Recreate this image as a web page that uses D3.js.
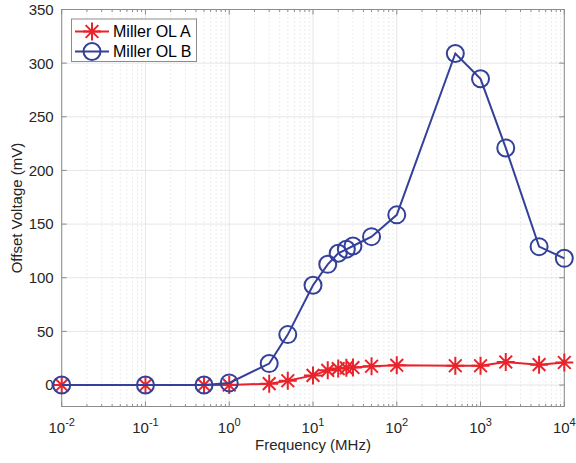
<!DOCTYPE html>
<html>
<head>
<meta charset="utf-8">
<script src="https://cdn.jsdelivr.net/npm/d3@7"></script>
<style>
  html, body { margin: 0; padding: 0; background: #fff; }
  svg { display: block; font-family: "Liberation Sans", Arial, Helvetica, sans-serif; }
</style>
</head>
<body>
<svg id="chart" width="576" height="463"></svg>
<script>
// Measured frequencies (MHz)
const freqs = [0.01, 0.1, 0.5, 1, 3, 5, 10, 15, 20, 25, 30, 50, 100, 500, 1000, 2000, 5000, 10000];
// Offset voltage (mV) for each amplifier variant
const millerA = [0, 0, 0, 0, 1.3, 4, 9, 13.7, 15.3, 16, 16.3, 17.5, 18.4, 18, 18, 21.5, 19, 21];
const millerB = [0, 0, 0, 2, 20, 47, 93, 112.5, 122.8, 126.5, 129.6, 138.3, 158.6, 309, 285.4, 221, 129, 118.1];
const seriesNames = ["Miller OL A", "Miller OL B"];
const xTickExps = [-2, -1, 0, 1, 2, 3, 4];
const yTicks = [0, 50, 100, 150, 200, 250, 300, 350];

const colA = "#e8232b";
const colB = "#34409a";

const svg = d3.select("#chart");
const L = 61.7, R = 564.3, T = 9.5, B = 406.5;

const x = d3.scaleLog().domain([0.01, 10000]).range([L, R]);
const y = d3.scaleLinear().domain([-20, 350]).range([B, T]);

// minor decade positions
const minors = [];
for (let e = -2; e < 4; e++) for (let k = 2; k <= 9; k++) minors.push(k * Math.pow(10, e));
const majors = xTickExps.map(e => Math.pow(10, e));

const grid = svg.append("g");
grid.selectAll(".vminor").data(minors).join("line")
  .attr("x1", d => x(d)).attr("x2", d => x(d)).attr("y1", T).attr("y2", B)
  .attr("stroke", "#cfcfcf").attr("stroke-width", 0.8).attr("stroke-dasharray", "1,3");
grid.selectAll(".vmajor").data(majors).join("line")
  .attr("x1", d => x(d)).attr("x2", d => x(d)).attr("y1", T).attr("y2", B)
  .attr("stroke", "#e6e6e6").attr("stroke-width", 1);
grid.selectAll(".hmajor").data(yTicks).join("line")
  .attr("x1", L).attr("x2", R).attr("y1", d => y(d)).attr("y2", d => y(d))
  .attr("stroke", "#e6e6e6").attr("stroke-width", 1);

// ticks (inward, on all four sides)
const axisCol = "#8c8c8c";
const ticks = svg.append("g").attr("stroke", axisCol).attr("stroke-width", 1);
majors.forEach(d => {
  ticks.append("line").attr("x1", x(d)).attr("x2", x(d)).attr("y1", B).attr("y2", B - 5);
  ticks.append("line").attr("x1", x(d)).attr("x2", x(d)).attr("y1", T).attr("y2", T + 5);
});
minors.forEach(d => {
  ticks.append("line").attr("x1", x(d)).attr("x2", x(d)).attr("y1", B).attr("y2", B - 2.5);
  ticks.append("line").attr("x1", x(d)).attr("x2", x(d)).attr("y1", T).attr("y2", T + 2.5);
});
yTicks.forEach(d => {
  ticks.append("line").attr("x1", L).attr("x2", L + 5).attr("y1", y(d)).attr("y2", y(d));
  ticks.append("line").attr("x1", R).attr("x2", R - 5).attr("y1", y(d)).attr("y2", y(d));
});
svg.append("rect").attr("x", L).attr("y", T).attr("width", R - L).attr("height", B - T)
  .attr("fill", "none").attr("stroke", axisCol).attr("stroke-width", 1);

// tick labels
const txtCol = "#262626";
const yl = svg.append("g").attr("font-size", 15).attr("fill", txtCol).attr("text-anchor", "end");
yTicks.forEach(d => {
  yl.append("text").attr("x", L - 8).attr("y", y(d)).attr("dy", "0.36em").text(d);
});
const xl = svg.append("g").attr("font-size", 15).attr("fill", txtCol).attr("text-anchor", "middle");
xTickExps.forEach(e => {
  const t = xl.append("text").attr("x", x(Math.pow(10, e))).attr("y", 433);
  t.append("tspan").text("10");
  t.append("tspan").attr("dy", -7).attr("font-size", 11).text(e);
});

// axis titles
svg.append("text").attr("x", (L + R) / 2).attr("y", 450).attr("text-anchor", "middle")
  .attr("font-size", 15).attr("fill", txtCol).text("Frequency (MHz)");
svg.append("text").attr("transform", `translate(22,${(T + B) / 2}) rotate(-90)`)
  .attr("text-anchor", "middle").attr("font-size", 15).attr("fill", txtCol).text("Offset Voltage (mV)");

// marker drawers
function star(g, cx, cy, r, col) {
  const d = r * Math.SQRT1_2;
  const p = `M${cx - r},${cy}L${cx + r},${cy}M${cx},${cy - r}L${cx},${cy + r}` +
            `M${cx - d},${cy - d}L${cx + d},${cy + d}M${cx - d},${cy + d}L${cx + d},${cy - d}`;
  g.append("path").attr("d", p).attr("stroke", col).attr("stroke-width", 2).attr("fill", "none");
}
function circ(g, cx, cy, r, col) {
  g.append("circle").attr("cx", cx).attr("cy", cy).attr("r", r)
    .attr("stroke", col).attr("stroke-width", 2).attr("fill", "none");
}

const line = d3.line().x(d => x(d[0])).y(d => y(d[1]));
const dataA = freqs.map((f, i) => [f, millerA[i]]);
const dataB = freqs.map((f, i) => [f, millerB[i]]);

const plot = svg.append("g");
plot.append("path").datum(dataA).attr("d", line).attr("fill", "none").attr("stroke", colA).attr("stroke-width", 2);
dataA.forEach(d => star(plot, x(d[0]), y(d[1]), 9, colA));
plot.append("path").datum(dataB).attr("d", line).attr("fill", "none").attr("stroke", colB).attr("stroke-width", 2);
dataB.forEach(d => circ(plot, x(d[0]), y(d[1]), 8.5, colB));

// legend
const lg = svg.append("g");
lg.append("rect").attr("x", 71.5).attr("y", 19).attr("width", 125).attr("height", 42.5)
  .attr("fill", "#fff").attr("stroke", axisCol).attr("stroke-width", 1);
const entries = [{ name: seriesNames[0], col: colA, mk: star, yy: 31.5 },
                 { name: seriesNames[1], col: colB, mk: circ, yy: 51.5 }];
entries.forEach(e => {
  lg.append("line").attr("x1", 75).attr("x2", 109).attr("y1", e.yy).attr("y2", e.yy)
    .attr("stroke", e.col).attr("stroke-width", 2);
  e.mk(lg, 92, e.yy, e.mk === star ? 9 : 8.5, e.col);
  lg.append("text").attr("x", 113).attr("y", e.yy).attr("dy", "0.36em")
    .attr("font-size", 16).attr("fill", "#000").text(e.name);
});
</script>
</body>
</html>
